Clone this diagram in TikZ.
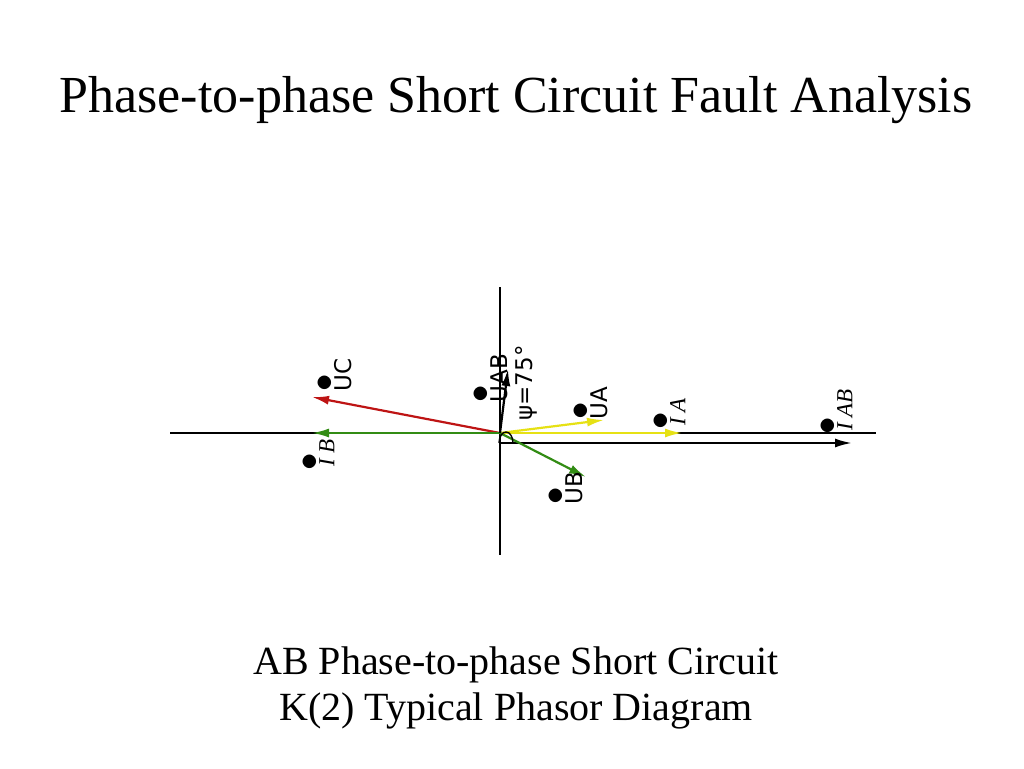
\documentclass[tikz,border=0pt]{standalone}
\usepackage{fontspec}
\setmainfont{Liberation Serif}
\setsansfont{DejaVu Sans}
\usetikzlibrary{arrows.meta}
\newcommand{\bd}[1]{\ensuremath{\stackrel{\raisebox{-2pt}{\scalebox{1.4}{$\bullet$}}}{\mbox{#1}}}}
\begin{document}
\begin{tikzpicture}[x=1pt,y=-1pt,
  vec/.style={line width=2.2pt,-{Latex[length=17pt,width=9pt]}},
  lab/.style={rotate=90,font=\fontsize{23}{24}\selectfont,inner sep=1pt},
  ax/.style={line width=1.1pt}]
\useasboundingbox (0,0) rectangle (1024,768);
\node (title) at (516,100) {\fontsize{52}{56}\selectfont Phase-to-phase Short Circuit Fault Analysis};
\node[align=center,font=\fontsize{40}{46}\selectfont] (cap) at (516,688) {AB Phase-to-phase Short Circuit\\K(2) Typical Phasor Diagram};
\coordinate (O) at (500,433);
\coordinate (xl) at (170,433); \coordinate (xr) at (876,433);
\coordinate (yt) at (500,287); \coordinate (yb) at (500,555);
\draw[ax] (xl) -- (xr); \draw[ax] (yt) -- (yb);
\coordinate (O2) at (500,443); \coordinate (IAB) at (852,443);
\draw[vec,black] (O2) -- (IAB);
\definecolor{yel}{RGB}{230,225,20}
\definecolor{grn}{RGB}{50,140,20}
\definecolor{rd}{RGB}{190,20,20}
\coordinate (IA) at (682,433); \coordinate (UA) at (604,420);
\coordinate (UB) at (586,477); \coordinate (UC) at (312,397);
\coordinate (IB) at (312,433); \coordinate (UAB) at (508,369);
\draw[vec,yel] (O) -- (IA);
\draw[vec,yel] (O) -- (UA);
\draw[vec,rd] (O) -- (UC);
\draw[vec,grn] (O) -- (IB);
\draw[vec,grn] (O) -- (UB);
\draw[vec,black] (O) -- (UAB);
\draw[line width=1.4pt] (513,443) arc (0:-180:7 and 11);
\node[lab] (lUC) at (334,375) {\sffamily\bd{U}C};
\node[lab] (lIB) at (318,455) {\bd{\textit{I}}\textit{B}};
\node[lab] (lUAB) at (490,378) {\sffamily\bd{U}AB};
\node[lab] (lpsi) at (526,383) {\sffamily ψ=75°};
\node[lab] (lUA) at (590,403) {\sffamily\bd{U}A};
\node[lab] (lIA) at (669,414) {\bd{\textit{I}}\textit{A}};
\node[lab] (lIAB) at (836,412) {\bd{\textit{I}}\textit{AB}};
\node[lab] (lUB) at (565,488) {\sffamily\bd{U}B};
\end{tikzpicture}
\end{document}
